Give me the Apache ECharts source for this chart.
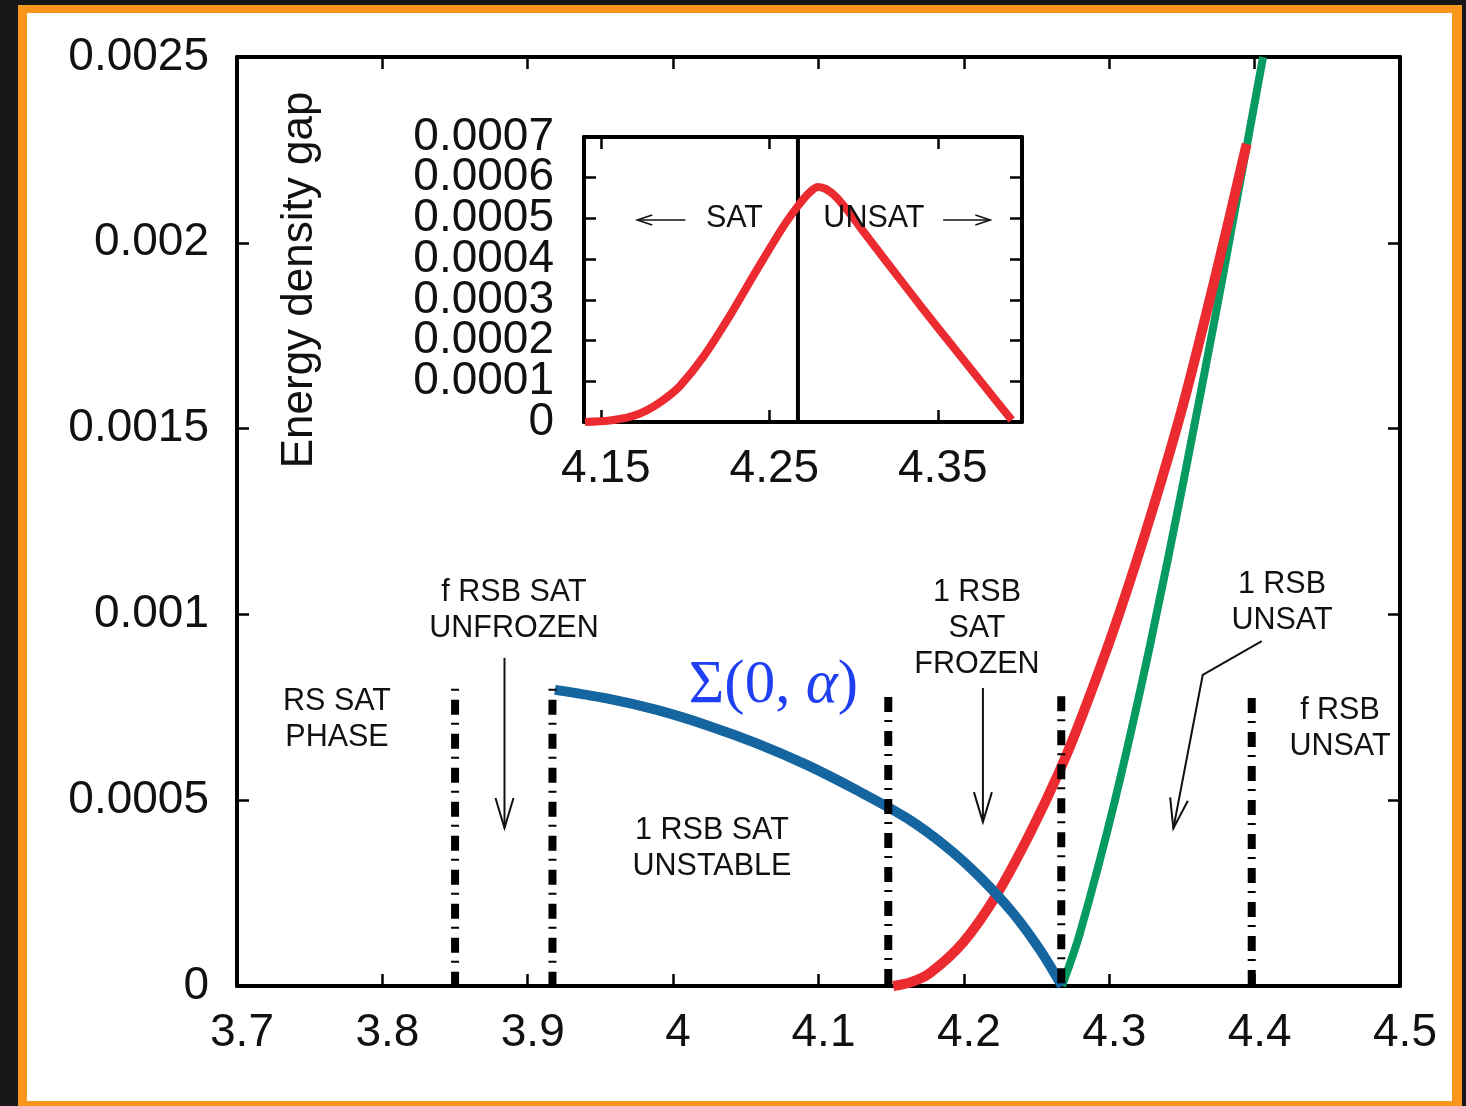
<!DOCTYPE html>
<html><head><meta charset="utf-8">
<script src="https://cdn.jsdelivr.net/npm/echarts@6.0.0/dist/echarts.min.js"></script>
<style>
html,body{margin:0;padding:0;background:#171717;width:1466px;height:1106px;overflow:hidden}
#frame{position:absolute;left:18px;top:5px;width:1444px;height:1110px;background:#f8961b}
#paper{position:absolute;left:27px;top:13px;width:1425px;height:1088px;background:#fff}
#chart{position:absolute;left:0;top:0;width:1466px;height:1106px}
</style></head><body>
<div id="frame"></div><div id="paper"></div><div id="chart"></div>
<script>
// ---------- data ----------
const mainXTicks = [3.7, 3.8, 3.9, 4.0, 4.1, 4.2, 4.3, 4.4, 4.5];
const mainYTicks = [0, 0.0005, 0.001, 0.0015, 0.002, 0.0025];
const insetXTicks = [4.15, 4.25, 4.35];
const insetYTicks = [0, 0.0001, 0.0002, 0.0003, 0.0004, 0.0005, 0.0006, 0.0007];

// Sigma(0, alpha) complexity (blue)
const sigmaX = [3.9187, 3.9543, 3.9887, 4.0231, 4.0575, 4.0919, 4.1263, 4.1607, 4.1882, 4.2111, 4.2338, 4.2524, 4.2675];
const sigmaY = [0.000797, 0.000774, 0.000743, 0.000702, 0.000653, 0.000595, 0.000527, 0.000452, 0.000374, 0.000293, 0.000196, 0.0000969, 0];

// red curve (main)
const redX = [4.1514, 4.164, 4.1767, 4.1996, 4.2226, 4.2455, 4.2661, 4.2821, 4.3051, 4.328, 4.3509, 4.3739, 4.3945];
const redY = [0, 0.0000108, 0.000035, 0.000118, 0.000246, 0.000411, 0.000581, 0.000735, 0.000982, 0.001259, 0.001566, 0.001924, 0.002266];

// green curve (main)
const greenX = [4.2675, 4.2799, 4.304, 4.328, 4.3509, 4.3739, 4.3831, 4.4058];
const greenY = [0, 0.000143, 0.000501, 0.000916, 0.001355, 0.001822, 0.002016, 0.0025];

// phase boundaries (dash-dot verticals)
const vlineX = [3.85, 3.917, 4.148, 4.267, 4.398];
const vlineTop = [0.0008, 0.0008, 0.000778, 0.00078, 0.000775];

// inset red curve
const insetX = [4.1406, 4.1554, 4.1653, 4.1732, 4.1811, 4.1891, 4.197, 4.2108, 4.2267, 4.2425, 4.2583, 4.2682, 4.2742, 4.2789, 4.2837, 4.2896, 4.2967, 4.3038, 4.3197, 4.3395, 4.3592, 4.3791, 4.3939];
const insetY = [0, 0.0000037, 0.0000106, 0.0000209, 0.0000376, 0.0000602, 0.0000885, 0.00016, 0.000262, 0.000373, 0.00048, 0.000537, 0.000565, 0.000577, 0.000572, 0.000553, 0.000518, 0.000479, 0.000393, 0.000287, 0.000184, 0.0000811, 0.000005];
const insetThreshold = 4.267;

// annotations (anchored in data coordinates)
const annoText = ['RS SAT\nPHASE', 'f RSB SAT\nUNFROZEN', '1 RSB SAT\nUNSTABLE', '1 RSB\nSAT\nFROZEN', '1 RSB\nUNSAT', 'f RSB\nUNSAT'];
const annoX = [3.7688, 3.8905, 4.0267, 4.209, 4.4188, 4.4587];
const annoY = [0.000716, 0.001009, 0.000371, 0.000961, 0.001033, 0.000692];
const arrowPaths = [
  [[3.884, 0.000883], [3.884, 0.000425]],
  [[4.2131, 0.000802], [4.2131, 0.000441]],
  [[4.4049, 0.000928], [4.3643, 0.000837], [4.3441, 0.000424]]
];
const insetText = ['SAT', 'UNSAT'];
const insetTextX = [4.2293, 4.3121];
const insetTextY = [0.000499, 0.000499];
const insetArrows = [
  [[4.2002, 0.000496], [4.1716, 0.000496]],
  [[4.3532, 0.000496], [4.3812, 0.000496]]
];

// ---------- chart ----------
const FONT = '"Liberation Sans", Arial, Helvetica, sans-serif';
const SERIF = '"Liberation Serif", "DejaVu Serif", serif';
const zip = (xs, ys) => xs.map((x, i) => [x, ys[i]]);
const fmt = v => String(+(+v).toFixed(5));
const INSET_XMIN = 4.14, INSET_XMAX = 4.40;

function axisBase(extra) {
  return Object.assign({
    type: 'value',
    splitLine: { show: false },
    axisLine: { show: true, onZero: false, lineStyle: { color: '#000', width: 4 } },
    axisTick: { show: true, inside: true, length: 12, lineStyle: { color: '#000', width: 2.5 } },
    axisLabel: { show: false }
  }, extra);
}
function labelStyle(margin, custom, padding) {
  const o = { show: true, fontSize: 46, fontFamily: FONT, color: '#111', margin: margin,
    formatter: fmt, showMinLabel: true, showMaxLabel: true, hideOverlap: false };
  if (custom) o.customValues = custom;
  if (padding) o.padding = padding;
  return o;
}

function arrowRender(paths, headLen, headW, lw) {
  return function (params, api) {
    const pts = paths[params.dataIndex].map(p => api.coord(p));
    const n = pts.length, a = pts[n - 2], b = pts[n - 1];
    const dx = b[0] - a[0], dy = b[1] - a[1], L = Math.hypot(dx, dy);
    const ux = dx / L, uy = dy / L;
    const p1 = [b[0] - ux * headLen - uy * headW, b[1] - uy * headLen + ux * headW];
    const p2 = [b[0] - ux * headLen + uy * headW, b[1] - uy * headLen - ux * headW];
    return { type: 'group', children: [
      { type: 'polyline', shape: { points: pts }, style: { stroke: '#111', lineWidth: lw, fill: null } },
      { type: 'polyline', shape: { points: [p1, b, p2] }, style: { stroke: '#111', lineWidth: lw, fill: null } }
    ] };
  };
}

const chart = echarts.init(document.getElementById('chart'), null, { renderer: 'canvas' });
const option = {
  animation: false,
  backgroundColor: 'transparent',
  grid: [
    { left: 237, top: 57, width: 1163, height: 929 },
    { left: 584, top: 137, width: 438, height: 285 }
  ],
  xAxis: [
    axisBase({ gridIndex: 0, min: mainXTicks[0], max: mainXTicks[mainXTicks.length - 1], interval: 0.1, position: 'bottom', axisLabel: labelStyle(24, null, [0, 0, 0, 10]) }),
    axisBase({ gridIndex: 0, min: mainXTicks[0], max: mainXTicks[mainXTicks.length - 1], interval: 0.1, position: 'top' }),
    axisBase({ gridIndex: 1, min: INSET_XMIN, max: INSET_XMAX, position: 'bottom',
      axisTick: { show: true, inside: true, length: 12, customValues: insetXTicks, lineStyle: { color: '#000', width: 2.5 } },
      axisLabel: labelStyle(24, insetXTicks, [0, 0, 0, 10]) }),
    axisBase({ gridIndex: 1, min: INSET_XMIN, max: INSET_XMAX, position: 'top',
      axisTick: { show: true, inside: true, length: 12, customValues: insetXTicks, lineStyle: { color: '#000', width: 2.5 } } })
  ],
  yAxis: [
    axisBase({ gridIndex: 0, min: 0, max: mainYTicks[mainYTicks.length - 1], interval: 0.0005, position: 'left', axisLabel: labelStyle(28) }),
    axisBase({ gridIndex: 0, min: 0, max: mainYTicks[mainYTicks.length - 1], interval: 0.0005, position: 'right' }),
    axisBase({ gridIndex: 1, min: 0, max: insetYTicks[insetYTicks.length - 1], interval: 0.0001, position: 'left' }),
    axisBase({ gridIndex: 1, min: 0, max: insetYTicks[insetYTicks.length - 1], interval: 0.0001, position: 'right' })
  ],
  series: [
    { type: 'line', name: 'green', xAxisIndex: 0, yAxisIndex: 0, data: zip(greenX, greenY), showSymbol: false, smooth: 0.3,
      lineStyle: { color: '#079b62', width: 8 }, z: 3 },
    { type: 'line', name: 'red', xAxisIndex: 0, yAxisIndex: 0, data: zip(redX, redY), showSymbol: false, smooth: 0.3,
      lineStyle: { color: '#ec2b31', width: 10 }, z: 4 },
    { type: 'line', name: 'sigma', xAxisIndex: 0, yAxisIndex: 0, data: zip(sigmaX, sigmaY), showSymbol: false, smooth: 0.3,
      lineStyle: { color: '#1565a0', width: 10 }, z: 5 },
    { type: 'custom', name: 'vlines', xAxisIndex: 0, yAxisIndex: 0, z: 6, clip: false,
      data: vlineX.map((x, i) => [x, vlineTop[i], i]),
      renderItem: function (params, api) {
        const i = params.dataIndex;
        const top = api.coord([api.value(0), api.value(1)]);
        const bot = api.coord([api.value(0), 0]);
        const dash = i < 2 ? [2, 9, 15, 8] : [15, 8, 2, 9];
        return { type: 'line', shape: { x1: top[0], y1: top[1], x2: bot[0], y2: bot[1] },
          style: { stroke: '#000', lineWidth: 8, lineDash: dash, lineCap: 'butt' } };
      } },
    { type: 'custom', name: 'labels', xAxisIndex: 0, yAxisIndex: 0, z: 7, clip: false,
      data: annoX.map((x, i) => [x, annoY[i], i]),
      renderItem: function (params, api) {
        const p = api.coord([api.value(0), api.value(1)]);
        return { type: 'text', x: p[0], y: p[1], style: { text: annoText[params.dataIndex],
          fontSize: 30.5, fontFamily: FONT, fill: '#111', align: 'center', verticalAlign: 'middle', lineHeight: 36 } };
      } },
    { type: 'custom', name: 'ylabel', xAxisIndex: 0, yAxisIndex: 0, z: 7, clip: false,
      data: [[3.7433, 0.0019]],
      renderItem: function (params, api) {
        const p = api.coord([api.value(0), api.value(1)]);
        return { type: 'text', x: p[0], y: p[1], rotation: Math.PI / 2, style: { text: 'Energy density gap',
          fontSize: 44, fontFamily: FONT, fill: '#111', align: 'center', verticalAlign: 'middle' } };
      } },
    { type: 'custom', name: 'sigmaLabel', xAxisIndex: 0, yAxisIndex: 0, z: 7, clip: false,
      data: [[4.069, 0.000807]],
      renderItem: function (params, api) {
        const p = api.coord([api.value(0), api.value(1)]);
        return { type: 'text', x: p[0], y: p[1], style: {
          text: '{a|Σ(0, }{b|α}{a|)}', align: 'center', verticalAlign: 'middle',
          rich: {
            a: { fontSize: 61, fontFamily: SERIF, fill: '#1f3ff2', fontStyle: 'normal' },
            b: { fontSize: 61, fontFamily: SERIF, fill: '#1f3ff2', fontStyle: 'italic' }
          } } };
      } },
    { type: 'custom', name: 'arrows', xAxisIndex: 0, yAxisIndex: 0, z: 7, clip: false,
      data: arrowPaths.map((a, i) => [a[0][0], a[0][1], i]),
      renderItem: arrowRender(arrowPaths, 30, 9, 2) },
    { type: 'line', name: 'insetThreshold', xAxisIndex: 2, yAxisIndex: 2, data: [[insetThreshold, 0], [insetThreshold, insetYTicks[insetYTicks.length - 1]]],
      showSymbol: false, lineStyle: { color: '#000', width: 4 }, z: 3 },
    { type: 'line', name: 'insetRed', xAxisIndex: 2, yAxisIndex: 2, data: zip(insetX, insetY), showSymbol: false, smooth: 0.3,
      lineStyle: { color: '#ec2b31', width: 8 }, z: 4 },
    { type: 'custom', name: 'insetYLabels', xAxisIndex: 2, yAxisIndex: 2, z: 7, clip: false,
      data: insetYTicks.map((v, i) => [INSET_XMIN, v, i]),
      renderItem: function (params, api) {
        const p = api.coord([api.value(0), api.value(1)]);
        return { type: 'text', x: p[0] - 30, y: p[1], style: { text: fmt(insetYTicks[params.dataIndex]),
          fontSize: 46, fontFamily: FONT, fill: '#111', align: 'right', verticalAlign: 'middle' } };
      } },
    { type: 'custom', name: 'insetLabels', xAxisIndex: 2, yAxisIndex: 2, z: 7, clip: false,
      data: insetTextX.map((x, i) => [x, insetTextY[i], i]),
      renderItem: function (params, api) {
        const p = api.coord([api.value(0), api.value(1)]);
        return { type: 'text', x: p[0], y: p[1], style: { text: insetText[params.dataIndex],
          fontSize: 30.5, fontFamily: FONT, fill: '#111', align: 'center', verticalAlign: 'middle' } };
      } },
    { type: 'custom', name: 'insetArrows', xAxisIndex: 2, yAxisIndex: 2, z: 7, clip: false,
      data: insetArrows.map((a, i) => [a[0][0], a[0][1], i]),
      renderItem: arrowRender(insetArrows, 15, 5, 1.5) }
  ]
};
chart.setOption(option);
</script></body></html>
